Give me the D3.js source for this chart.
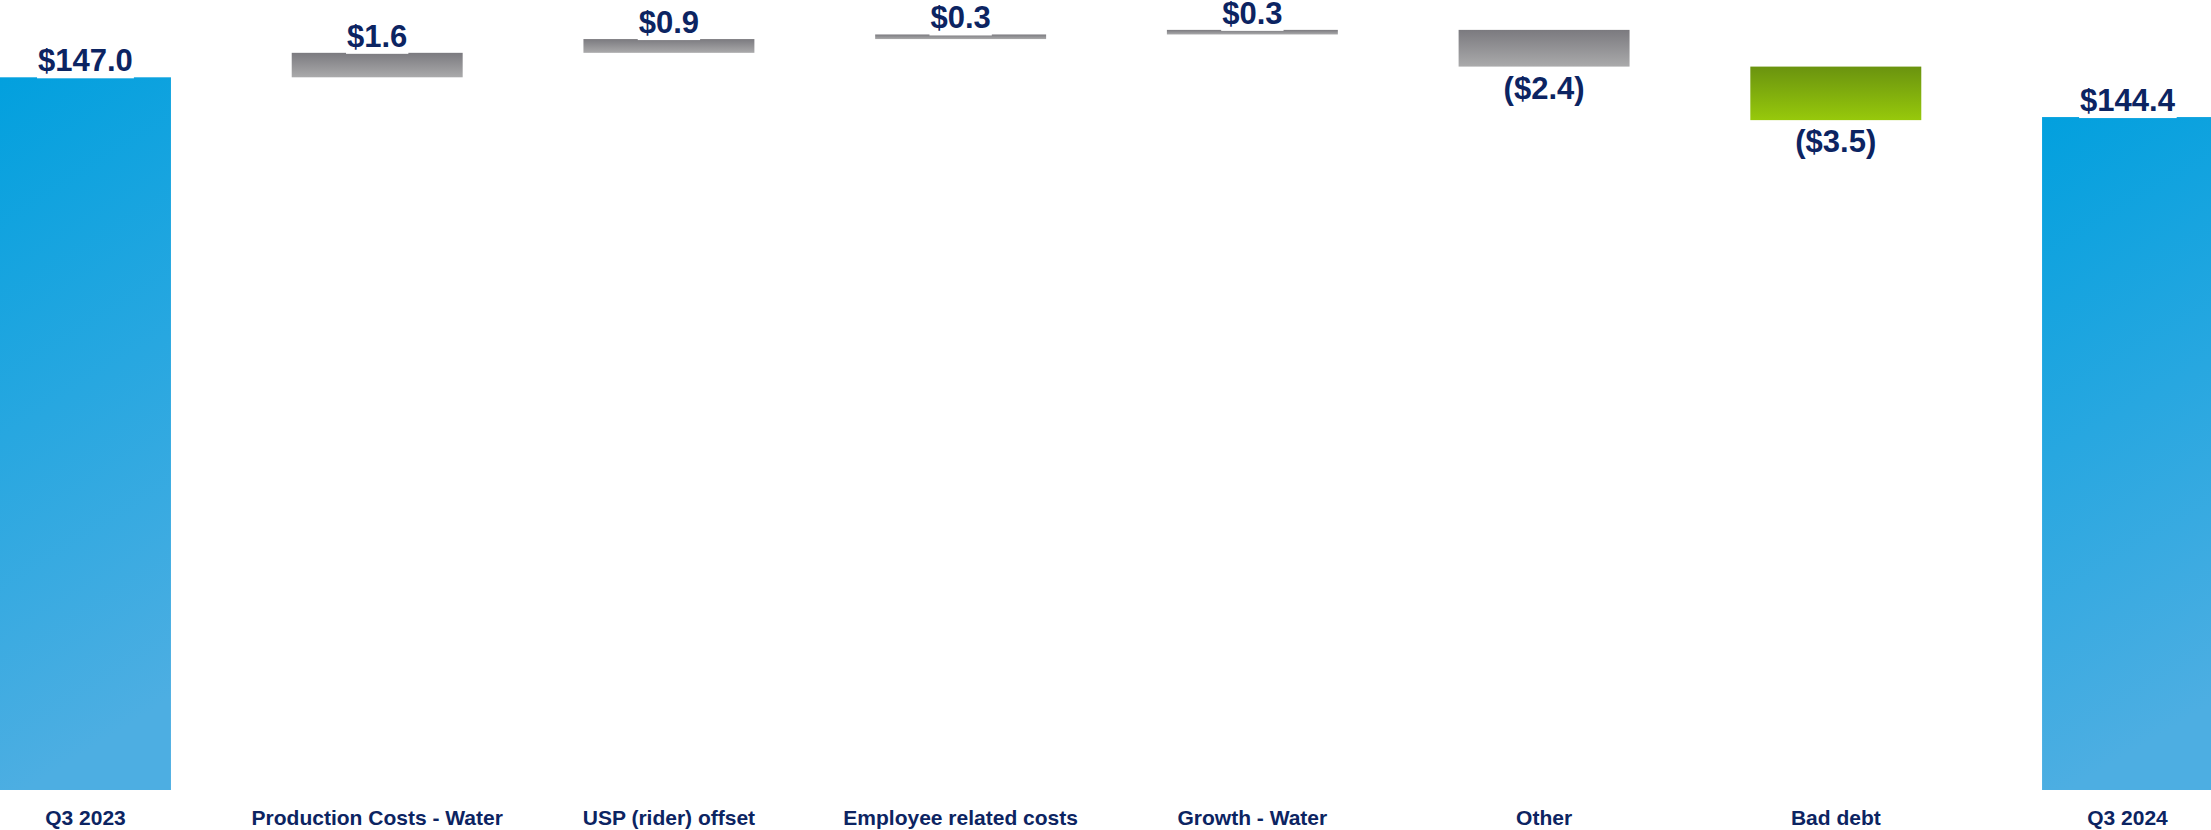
<!DOCTYPE html>
<html>
<head>
<meta charset="utf-8">
<script src="https://cdn.jsdelivr.net/npm/d3@7"></script>
<style>
  html, body { margin: 0; padding: 0; background: #ffffff; }
  svg { display: block; }
  text { font-family: "Liberation Sans", Arial, sans-serif; font-weight: bold; fill: #0c2462; }
</style>
</head>
<body>
<svg id="chart" width="2211" height="830"></svg>
<script>
// Quarterly bridge: Q3 2023 to Q3 2024 ($ millions)
const categories = ["Q3 2023", "Production Costs - Water", "USP (rider) offset", "Employee related costs",
                    "Growth - Water", "Other", "Bad debt", "Q3 2024"];
const values = [147.0, 1.6, 0.9, 0.3, 0.3, -2.4, -3.5, 144.4];
const barTypes = ["total", "change", "change", "change", "change", "change", "highlight", "total"];

const W = 2211, H = 830;
const svg = d3.select("#chart");

// Running totals for the floating steps
let running = 0;
const bars = categories.map((c, i) => {
  const v = values[i];
  let lo, hi;
  if (barTypes[i] === "total") {
    lo = null; hi = v; running = v;
  } else {
    const start = running;
    running = +(running + v).toFixed(2);
    lo = Math.min(start, running); hi = Math.max(start, running);
  }
  return { cat: c, value: v, type: barTypes[i], lo, hi };
});

// Broken value axis: bars start from an axis floor well above zero
const axisFloor = 100.4;
const x = d3.scaleBand().domain(categories).range([0, 2213]).paddingInner(0.414).paddingOuter(0);
const y = d3.scaleLinear().domain([axisFloor, 147.0]).range([790, 77.3]);

// Gradients
const defs = svg.append("defs");
function grad(id, stops, x2, y2) {
  const g = defs.append("linearGradient").attr("id", id)
    .attr("x1", 0).attr("y1", 0).attr("x2", x2).attr("y2", y2);
  stops.forEach(([o, c]) => g.append("stop").attr("offset", o).attr("stop-color", c));
}
grad("g-total", [[0, "#02a0de"], [1, "#4daee2"]], 0.15, 1);
grad("g-change", [[0, "#7b7a7f"], [1, "#aaaaab"]], 0, 1);
grad("g-highlight", [[0, "#6a930f"], [1, "#97c90b"]], 0, 1);

const fillFor = t => t === "total" ? "url(#g-total)" : t === "highlight" ? "url(#g-highlight)" : "url(#g-change)";

svg.append("g").selectAll("rect").data(bars).join("rect")
  .attr("x", d => x(d.cat))
  .attr("width", x.bandwidth())
  .attr("y", d => y(d.hi))
  .attr("height", d => (d.lo === null ? y(axisFloor) : y(d.lo)) - y(d.hi))
  .attr("fill", d => fillFor(d.type));

// Value labels: above rising/total bars, below falling bars
const fmt = v => v < 0 ? "($" + Math.abs(v).toFixed(1) + ")" : "$" + v.toFixed(1);
const labelG = svg.append("g");
bars.forEach(d => {
  const cx = x(d.cat) + x.bandwidth() / 2;
  const g = labelG.append("g");
  const neg = d.value < 0;
  const baseY = neg ? y(d.lo) + 32 : y(d.hi) - 6;
  const t = g.append("text")
    .attr("x", cx).attr("y", baseY)
    .attr("text-anchor", "middle")
    .style("font-size", "31px")
    .text(fmt(d.value));
  if (!neg) {
    const bb = t.node().getBBox();
    g.insert("rect", "text")
      .attr("x", bb.x - 1).attr("width", bb.width + 2)
      .attr("y", Math.max(0, bb.y)).attr("height", y(d.hi) + 1 - Math.max(0, bb.y))
      .attr("fill", "#ffffff");
  }
});

// Category labels
svg.append("g").selectAll("text").data(categories).join("text")
  .attr("x", d => x(d) + x.bandwidth() / 2)
  .attr("y", 825)
  .attr("text-anchor", "middle")
  .style("font-size", "21px")
  .text(d => d);
</script>
</body>
</html>
